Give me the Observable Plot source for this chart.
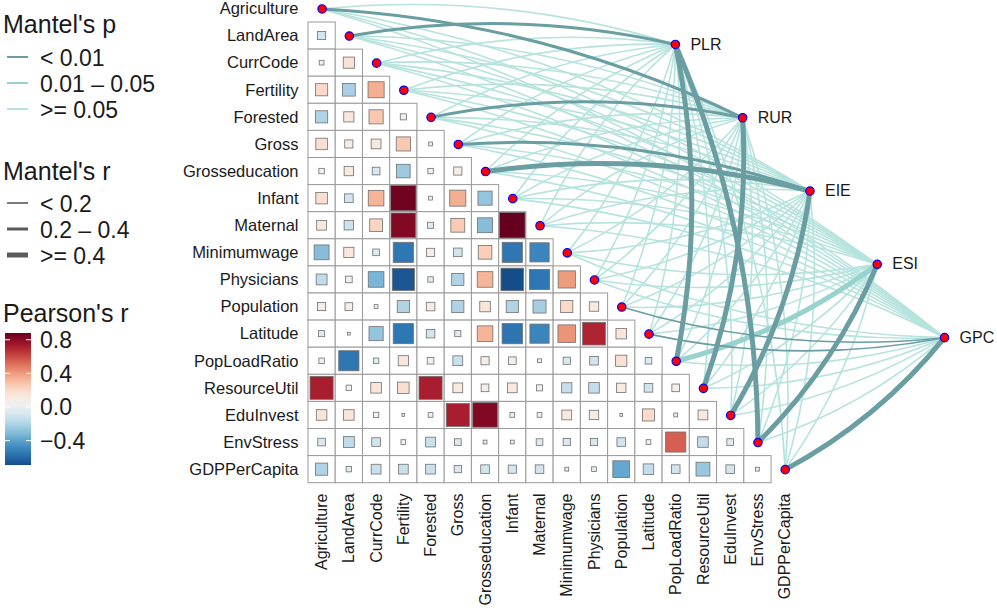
<!DOCTYPE html>
<html><head><meta charset="utf-8">
<script src="https://cdn.jsdelivr.net/npm/d3@7"></script>
<script src="https://cdn.jsdelivr.net/npm/@observablehq/plot@0.6"></script>
<style>
body{margin:0;background:#fff;font-family:"Liberation Sans",Arial,Helvetica,sans-serif;}
#wrap{position:relative;width:997px;height:614px;overflow:hidden;}
#chart,#legend{position:absolute;left:0;top:0;}
</style></head><body>
<div id="wrap"><div id="chart"></div><svg id="legend" width="190" height="480"></svg></div>
<script>
// ---------- data ----------
const variables = ["Agriculture","LandArea","CurrCode","Fertility","Forested","Gross","Grosseducation","Infant","Maternal","Minimumwage","Physicians","Population","Latitude","PopLoadRatio","ResourceUtil","EduInvest","EnvStress","GDPPerCapita"];
const targets = ["PLR","RUR","EIE","ESI","GPC"];

// Pearson's r, lower triangle: row i holds r(i, 0..i-1)
const pearsonRows = [
  [],
  [-0.09],
  [0.03, 0.17],
  [0.2, -0.22, 0.35],
  [-0.2, 0.14, 0.27, 0.05],
  [0.18, 0.09, 0.13, 0.27, 0.02],
  [0.04, 0.12, -0.08, -0.25, 0.04, 0.09],
  [0.18, -0.1, 0.33, 0.86, 0.02, 0.35, -0.27],
  [0.13, -0.12, 0.22, 0.82, -0.05, 0.26, -0.3, 0.88],
  [-0.3, 0.14, -0.06, -0.55, 0.09, -0.1, 0.25, -0.55, -0.5],
  [-0.16, 0.06, -0.33, -0.66, -0.04, -0.2, 0.33, -0.69, -0.55, 0.4],
  [0.09, 0.08, 0.02, -0.2, 0.1, -0.2, 0.15, -0.2, -0.23, 0.2, 0.12],
  [-0.05, 0.01, -0.27, -0.55, -0.1, -0.05, 0.33, -0.56, -0.5, 0.42, 0.7, 0.15],
  [0.04, -0.55, -0.04, 0.14, 0.06, -0.13, 0.09, 0.08, 0.02, -0.07, -0.1, 0.17, -0.06],
  [0.72, 0.04, 0.15, 0.18, 0.72, 0.13, 0.08, 0.13, 0.05, -0.14, -0.15, 0.12, -0.1, 0.08],
  [0.15, 0.15, 0.04, 0.01, 0.03, 0.72, 0.82, 0.03, 0.03, 0.13, 0.12, 0.01, 0.2, 0.02, 0.13],
  [-0.08, -0.16, -0.1, 0.03, -0.13, -0.06, -0.02, -0.02, -0.06, -0.07, -0.07, -0.1, 0.03, 0.55, -0.15, -0.06],
  [-0.2, -0.04, -0.13, -0.13, -0.13, -0.07, -0.1, -0.09, -0.1, -0.02, -0.03, -0.38, -0.15, -0.1, -0.26, -0.1, -0.02]
];

// Mantel's r and p of each target against each variable (variable order)
const mantelR_PLR = [0.12, 0.26, 0.05, 0.08, 0.06, 0.05, 0.07, 0.06, 0.05, 0.04, 0.06, 0.08, 0.05, 0.72, 0.09, 0.05, 0.45, 0.07];
const mantelP_PLR = [0.12, 0.004, 0.4, 0.3, 0.5, 0.6, 0.35, 0.45, 0.5, 0.7, 0.4, 0.2, 0.55, 0.001, 0.15, 0.6, 0.001, 0.3];
const mantelR_RUR = [0.25, 0.06, 0.04, 0.05, 0.3, 0.07, 0.05, 0.06, 0.05, 0.08, 0.06, 0.05, 0.07, 0.1, 0.65, 0.05, 0.08, 0.06];
const mantelP_RUR = [0.003, 0.4, 0.6, 0.5, 0.002, 0.3, 0.5, 0.45, 0.5, 0.2, 0.4, 0.5, 0.3, 0.15, 0.001, 0.5, 0.25, 0.4];
const mantelR_EIE = [0.06, 0.05, 0.07, 0.05, 0.08, 0.28, 0.45, 0.05, 0.06, 0.07, 0.05, 0.06, 0.05, 0.08, 0.06, 0.62, 0.07, 0.05];
const mantelP_EIE = [0.4, 0.5, 0.3, 0.5, 0.2, 0.002, 0.001, 0.5, 0.4, 0.3, 0.5, 0.4, 0.5, 0.2, 0.4, 0.001, 0.3, 0.5];
const mantelR_ESI = [0.05, 0.07, 0.05, 0.06, 0.05, 0.06, 0.05, 0.07, 0.06, 0.05, 0.06, 0.05, 0.07, 0.42, 0.08, 0.06, 0.6, 0.07];
const mantelP_ESI = [0.5, 0.3, 0.5, 0.4, 0.5, 0.4, 0.5, 0.3, 0.4, 0.5, 0.4, 0.5, 0.3, 0.02, 0.2, 0.4, 0.001, 0.3];
const mantelR_GPC = [0.05, 0.06, 0.05, 0.07, 0.05, 0.06, 0.05, 0.06, 0.07, 0.05, 0.06, 0.15, 0.16, 0.08, 0.06, 0.07, 0.08, 0.7];
const mantelP_GPC = [0.5, 0.4, 0.5, 0.3, 0.5, 0.4, 0.5, 0.4, 0.3, 0.5, 0.4, 0.006, 0.004, 0.2, 0.4, 0.3, 0.2, 0.001];

const pClasses = ["< 0.01", "0.01 \u2013 0.05", ">= 0.05"];
const rClasses = ["< 0.2", "0.2 \u2013 0.4", ">= 0.4"];
const colorTicks = [0.8, 0.4, 0.0, -0.4];

// ---------- styles / layout ----------
const FONT = '"Liberation Sans",Arial,Helvetica,sans-serif';
const pColors = ["#6a9ea2", "#98d2cc", "#b6e3de"];
const rWidths = [1.6, 3, 5];
const BEND = 11.4;
const nodeX = k => 12.97 + 2.47 * k;   // target node layout (cell units)
const nodeY = k => 1.31 + 2.705 * k;

// ---------- derived tables ----------
const cells = [];
pearsonRows.forEach((row, i) => row.forEach((r, j) => cells.push({row: i, col: j, r})));
const rMin = d3.min(cells, d => d.r), rMax = d3.max(cells, d => d.r);

const mantelR = [mantelR_PLR, mantelR_RUR, mantelR_EIE, mantelR_ESI, mantelR_GPC];
const mantelP = [mantelP_PLR, mantelP_RUR, mantelP_EIE, mantelP_ESI, mantelP_GPC];
const links = [];
targets.forEach((t, k) => variables.forEach((v, i) => {
  const r = mantelR[k][i], p = mantelP[k][i];
  links.push({k, i, r, p,
    pc: p < 0.01 ? 0 : p < 0.05 ? 1 : 2,
    rc: r < 0.2 ? 0 : r < 0.4 ? 1 : 2,
    upper: i < variables.length / 2});
}));

const linkMarks = [];
for (const pc of [2, 1, 0]) {
  for (const upper of [true, false]) {
    const data = links.filter(d => d.pc === pc && d.upper === upper);
    if (!data.length) continue;
    linkMarks.push(Plot.arrow(data, {
      x1: d => d.i, y1: d => d.i, x2: d => nodeX(d.k), y2: d => nodeY(d.k),
      bend: upper ? BEND : -BEND, headLength: 0,
      stroke: pColors[pc], strokeWidth: d => rWidths[d.rc], strokeLinecap: "butt"
    }));
  }
}

const cx0 = 321.6, cw = 27.24, cy0 = 8.45, chh = 27.1, N = variables.length - 1;

const chart = Plot.plot({
  width: 997, height: 614,
  marginLeft: 308, marginRight: 0, marginTop: 0, marginBottom: 130,
  x: {domain: [0, N], range: [cx0, cx0 + N * cw]},
  y: {domain: [0, N], range: [cy0, cy0 + N * chh]},
  color: {type: "linear", scheme: "rdbu", reverse: true, domain: [rMin - 0.09, rMax]},
  style: {fontFamily: FONT, fontSize: "16px", color: "#1a1a1a", background: "white", overflow: "visible"},
  marks: [
    Plot.rect(cells, {x1: d => d.col - 0.5, x2: d => d.col + 0.5, y1: d => d.row - 0.5, y2: d => d.row + 0.5,
      fill: "white", stroke: "#9a9a9a", strokeWidth: 1}),
    Plot.rect(cells, {
      x1: d => d.col - Math.sqrt(Math.abs(d.r)) / 2, x2: d => d.col + Math.sqrt(Math.abs(d.r)) / 2,
      y1: d => d.row - Math.sqrt(Math.abs(d.r)) / 2, y2: d => d.row + Math.sqrt(Math.abs(d.r)) / 2,
      fill: "r", stroke: "#707070", strokeWidth: 0.8}),
    ...linkMarks,
    Plot.dot(variables, {x: (d, i) => i, y: (d, i) => i, r: 4.2, fill: "red", stroke: "blue", strokeWidth: 1.2}),
    Plot.dot(targets, {x: (d, k) => nodeX(k), y: (d, k) => nodeY(k), r: 4.2, fill: "red", stroke: "blue", strokeWidth: 1.2}),
    Plot.text(targets, {x: (d, k) => nodeX(k), y: (d, k) => nodeY(k), text: d => d, dx: 15, textAnchor: "start", fontSize: 16, fill: "#1a1a1a"}),
    Plot.axisY({ticks: d3.range(variables.length), tickFormat: i => variables[i], tickSize: 0, tickPadding: 10, label: null, fontSize: 16.5}),
    Plot.axisX({ticks: d3.range(variables.length), tickFormat: i => variables[i], tickSize: 0, tickPadding: 9, tickRotate: -90, label: null, fontSize: 16, anchor: "bottom"})
  ]
});
document.getElementById("chart").appendChild(chart);

// ---------- legend ----------
const lg = d3.select("#legend").style("font-family", FONT);
const title = (t, y) => lg.append("text").attr("x", 3).attr("y", y).attr("font-size", 25).attr("fill", "#1a1a1a").text(t);
title("Mantel's p", 33);
[57, 83, 109].forEach((y, i) => {
  lg.append("line").attr("x1", 7).attr("x2", 28).attr("y1", y).attr("y2", y).attr("stroke", pColors[i]).attr("stroke-width", 2);
  lg.append("text").attr("x", 40).attr("y", y + 8.5).attr("font-size", 23).attr("fill", "#1a1a1a").text(pClasses[i]);
});
title("Mantel's r", 180);
[203, 229, 255].forEach((y, i) => {
  lg.append("line").attr("x1", 7).attr("x2", 28).attr("y1", y).attr("y2", y).attr("stroke", "#5a5a5a").attr("stroke-width", rWidths[i]);
  lg.append("text").attr("x", 40).attr("y", y + 8.5).attr("font-size", 23).attr("fill", "#1a1a1a").text(rClasses[i]);
});
title("Pearson's r", 322);
const colorScale = Plot.scale({color: chart.scale("color")});
const barTop = 333, barBottom = 465, barX = 5, barW = 26;
const vy = v => barTop + (rMax - v) / (rMax - rMin) * (barBottom - barTop);
const grad = lg.append("defs").append("linearGradient").attr("id", "cbar").attr("x1", 0).attr("x2", 0).attr("y1", 1).attr("y2", 0);
d3.range(0, 1.0001, 0.05).forEach(t => {
  grad.append("stop").attr("offset", t).attr("stop-color", colorScale.apply(rMin + t * (rMax - rMin)));
});
lg.append("rect").attr("x", barX).attr("y", barTop).attr("width", barW).attr("height", barBottom - barTop).attr("fill", "url(#cbar)");
colorTicks.forEach(v => {
  const y = vy(v);
  lg.append("line").attr("x1", barX).attr("x2", barX + 5).attr("y1", y).attr("y2", y).attr("stroke", "white").attr("stroke-width", 1);
  lg.append("line").attr("x1", barX + barW - 5).attr("x2", barX + barW).attr("y1", y).attr("y2", y).attr("stroke", "white").attr("stroke-width", 1);
  lg.append("text").attr("x", 40).attr("y", y + 8.5).attr("font-size", 23).attr("fill", "#1a1a1a").text(d3.format(".1f")(v).replace("-", "\u2212"));
});
</script>
</body></html>
